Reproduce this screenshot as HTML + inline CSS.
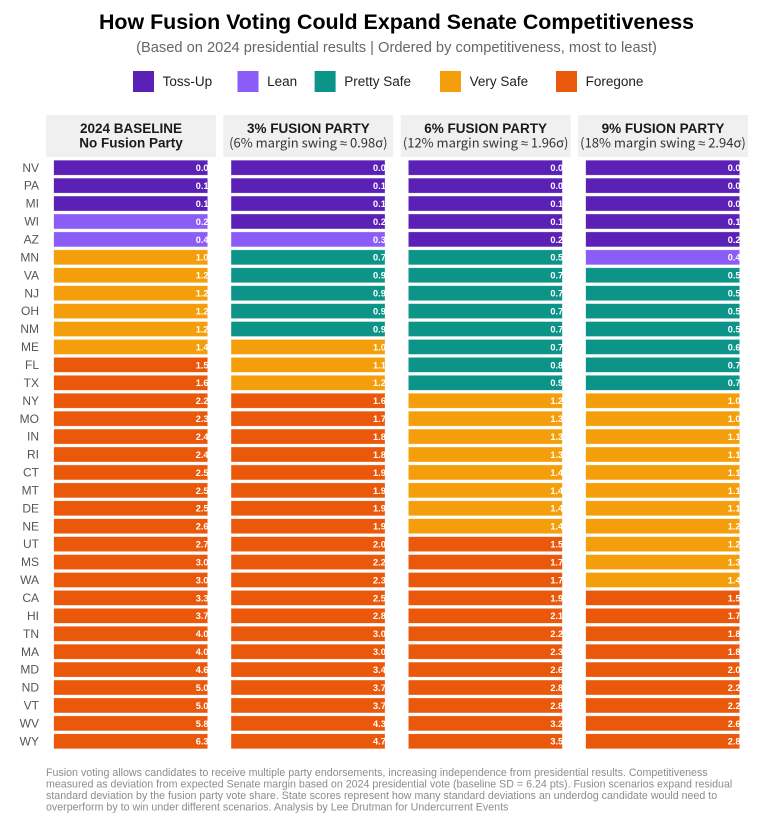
<!DOCTYPE html>
<html lang="en">
<head>
<meta charset="utf-8">
<title>How Fusion Voting Could Expand Senate Competitiveness</title>
<style>
  html, body { margin: 0; padding: 0; background: #ffffff; }
  #chart { display: block; width: 761px; height: 827px; font-family: "Liberation Sans", sans-serif; }
  .legend-label { font-size: 13.5px; fill: #1f1f1f; }
  .head-bold { font-size: 13.5px; font-weight: 700; fill: #1a1a1a; text-anchor: middle; }
  .head-light { font-size: 13px; fill: #333333; text-anchor: middle; font-family: "Noto Sans CJK SC", "Liberation Sans", sans-serif; }
  .approx { font-family: "Liberation Sans", sans-serif; }
  .state { font-size: 12px; fill: #555555; text-anchor: end; }
  .val { font-size: 9.2px; font-weight: 700; fill: #ffffff; text-anchor: end; }
  .note { font-size: 10.66px; fill: #8c8c8c; }
</style>
</head>
<body>
<svg id="chart" xmlns="http://www.w3.org/2000/svg" width="761" height="827" viewBox="0 0 761 827">
  <text x="396.5" y="29" text-anchor="middle" font-size="21.4" font-weight="700" fill="#000000">How Fusion Voting Could Expand Senate Competitiveness</text>
  <text x="396.5" y="52" text-anchor="middle" font-size="14.68" fill="#666666">(Based on 2024 presidential results | Ordered by competitiveness, most to least)</text>
  <g id="legend"></g>
  <g id="panels"></g>
  <g>
    <text class="note" x="46" y="776">Fusion voting allows candidates to receive multiple party endorsements, increasing independence from presidential results. Competitiveness</text>
    <text class="note" x="46" y="787.5">measured as deviation from expected Senate margin based on 2024 presidential vote (baseline SD = 6.24 pts). Fusion scenarios expand residual</text>
    <text class="note" x="46" y="799">standard deviation by the fusion party vote share. State scores represent how many standard deviations an underdog candidate would need to</text>
    <text class="note" x="46" y="810.5">overperform by to win under different scenarios. Analysis by Lee Drutman for Undercurrent Events</text>
  </g>
</svg>
<script>
const states = ["NV","PA","MI","WI","AZ","MN","VA","NJ","OH","NM","ME","FL","TX","NY","MO","IN","RI","CT","MT","DE","NE","UT","MS","WA","CA","HI","TN","MA","MD","ND","VT","WV","WY"];
const baseline = [0.0,0.1,0.1,0.2,0.4,1.0,1.2,1.2,1.2,1.2,1.4,1.5,1.6,2.2,2.3,2.4,2.4,2.5,2.5,2.5,2.6,2.7,3.0,3.0,3.3,3.7,4.0,4.0,4.6,5.0,5.0,5.8,6.3];
const fusion3 = [0.0,0.1,0.1,0.18,0.3,0.7,0.9,0.9,0.9,0.9,1.0,1.1,1.2,1.6,1.7,1.8,1.8,1.9,1.9,1.9,1.9,2.0,2.2,2.3,2.5,2.8,3.0,3.0,3.4,3.7,3.7,4.3,4.7];
const fusion6 = [0.0,0.0,0.1,0.1,0.18,0.5,0.7,0.7,0.7,0.7,0.7,0.8,0.9,1.2,1.3,1.3,1.3,1.4,1.4,1.4,1.4,1.5,1.7,1.7,1.9,2.1,2.2,2.3,2.6,2.8,2.8,3.2,3.5];
const fusion9 = [0.0,0.0,0.0,0.1,0.18,0.4,0.5,0.5,0.5,0.5,0.6,0.7,0.7,1.0,1.0,1.1,1.1,1.1,1.1,1.1,1.2,1.2,1.3,1.4,1.5,1.7,1.8,1.8,2.0,2.2,2.2,2.6,2.8];
const panelTitles = ["2024 BASELINE","3% FUSION PARTY","6% FUSION PARTY","9% FUSION PARTY"];
const panelSubtitles = ["No Fusion Party","(6% margin swing ≈ 0.98σ)","(12% margin swing ≈ 1.96σ)","(18% margin swing ≈ 2.94σ)"];
const levelNames = ["Toss-Up","Lean","Pretty Safe","Very Safe","Foregone"];
const levelUpperBounds = [0.2,0.5,1.0,1.5,Infinity];

const levelColors = ["#5B21B6","#8B5CF6","#0D9488","#F59E0B","#EA580C"];
const legendSwatchX = [133,237.5,314.6,440,556];
const series = [baseline,fusion3,fusion6,fusion9];
const NS = "http://www.w3.org/2000/svg";

function mk(parent, tag, attrs, text) {
  const el = document.createElementNS(NS, tag);
  for (const k in attrs) el.setAttribute(k, attrs[k]);
  if (text !== undefined) el.textContent = text;
  parent.appendChild(el);
  return el;
}
function slug(s) { return s.toLowerCase().replace(/[^a-z0-9]+/g, "-"); }
function levelIndex(v) { return levelUpperBounds.findIndex(function (b) { return v < b; }); }
function yTop(i) { return 160.2 + i * 17.925; }
function panelX(p) { return 53.7 + p * 177.33; }

const BAR_W = 154, BAR_H = 15;
const legend = document.getElementById("legend");
levelNames.forEach(function (name, i) {
  const sw = mk(legend, "rect", { x: legendSwatchX[i], y: 71, width: 21, height: 21, fill: levelColors[i] });
  
  
  const lb = mk(legend, "text", { x: legendSwatchX[i] + 29.6, y: 86, "class": "legend-label" }, name);
  
  
});

const panels = document.getElementById("panels");
const svgRoot = document.getElementById("chart");
const defs = mk(svgRoot, "defs", {});



series.forEach(function (values, p) {
  const px = panelX(p);
  const g = mk(panels, "g", {});
  
  

  const strip = mk(g, "rect", { x: px - 7.7, y: 115, width: 170, height: 42, fill: "#f0f0f0" });
  
  
  const cx = px - 7.7 + 85;
  const t1 = mk(g, "text", { x: cx, y: 133, "class": "head-bold" }, panelTitles[p]);
  
  
  const t2 = mk(g, "text", { x: cx, y: 147.5, "class": p === 0 ? "head-bold" : "head-light" });
  
  
  panelSubtitles[p].split(/(≈)/).forEach(function (part) {
    const sp = mk(t2, "tspan", part === "≈" ? { "class": "approx" } : {}, part);
    
    
  });

  const clip = mk(defs, "clipPath", { id: "clip-" + p });
  mk(clip, "rect", { x: px - 2, y: 155, width: BAR_W + 2.3, height: 600 });

  values.forEach(function (v, i) {
    const c = levelColors[levelIndex(v)];
    const bar = mk(g, "rect", {
      x: px, y: yTop(i), width: BAR_W, height: BAR_H, fill: c,
      stroke: "#ffffff", "stroke-opacity": "0.55", "stroke-width": "0.6"
    });
    
    
    const lab = mk(g, "text", {
      x: px + BAR_W + 0.8, y: yTop(i) + 10.9, "class": "val", "clip-path": "url(#clip-" + p + ")"
    }, v.toFixed(1));
    
    
  });
});

const stateAxis = mk(panels, "g", {});


states.forEach(function (s, i) {
  const t = mk(stateAxis, "text", { x: 39, y: yTop(i) + 11.6, "class": "state" }, s);
  
  
});
</script>
</body>
</html>
